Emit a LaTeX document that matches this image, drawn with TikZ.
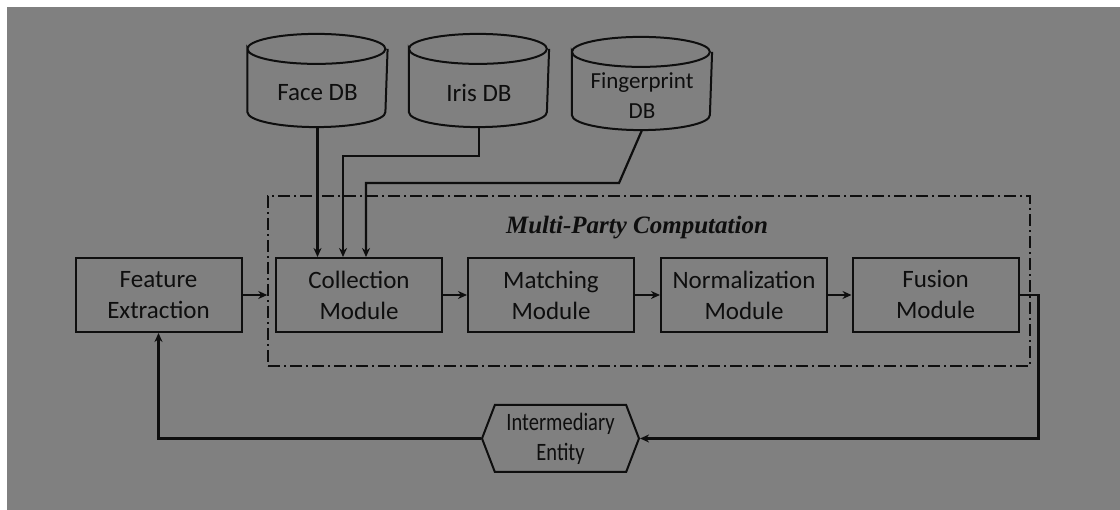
\documentclass[tikz,border=0pt]{standalone}
\usepackage{fontspec}
\setmainfont{Carlito}
\newfontfamily\titlefont{Liberation Serif}
\newfontfamily\schmal[FakeStretch=0.82]{Carlito}
\usepackage{tikz}
\usetikzlibrary{shapes.symbols}
\usetikzlibrary{arrows,arrows.meta}
\usetikzlibrary{calc}
\definecolor{hintergrund}{RGB}{128,128,128}
\definecolor{linie}{RGB}{14,14,14}

\tikzset{
	modul/.style={draw, line width=2pt, minimum width=166pt, minimum height=74pt, align=center, inner sep=0pt},
	datenbank/.style={minimum width=138pt, minimum height=66pt, align=center, inner sep=0pt},
	instanz/.style={draw, line width=2pt, signal, signal to=east and west, signal pointer angle=138, minimum width=157pt, minimum height=67pt, align=center, inner sep=0pt, font=\schmal\fontsize{25}{30}\selectfont},
	rahmen/.style={draw, line width=1.5pt, dash pattern=on 12pt off 4pt on 2pt off 4pt, minimum width=762pt, minimum height=170pt, inner sep=0pt},
}

\begin{document}
\begin{tikzpicture}[x=1pt, y=1pt, linie, text=linie, >={Stealth[length=9pt,width=8pt]}, line width=2.2pt, font=\fontsize{25}{31}\selectfont]

	\useasboundingbox (0,0) rectangle (1120,510);
	\fill[white] (0,0) rectangle (1120,510);
	\fill[hintergrund] (7,0) rectangle (1120,503);

	% Datenbanken
	\node[datenbank] (face) at (317.5,417) {Face DB};
	\node[datenbank] (iris) at (479,417) {Iris DB};
	\node[datenbank, font=\fontsize{23}{30}\selectfont] (finger) at (642,414) {Fingerprint\\DB};
	\foreach \db in {face,iris,finger}
		\draw[line width=2pt] ([yshift=10pt]\db.north west) arc[start angle=180, end angle=-180, x radius=69pt, y radius=15pt]
			-- ([yshift=15pt]\db.south west) arc[start angle=180, end angle=360, x radius=69pt, y radius=15pt]
			-- ([yshift=10pt]\db.north east);

	% MPC-Rahmen
	\node[rahmen] (mpc) at (649,229) {};
	\node[font=\titlefont\fontsize{25}{28}\selectfont\bfseries\itshape] (titel) at (637,282) {Multi-Party Computation};

	% Module
	\node[modul] (feat) at (158.5,215) {Feature\\Extraction};
	\node[modul] (coll) at (359,215) {Collection\\Module};
	\node[modul] (match) at (551,215) {Matching\\Module};
	\node[modul] (norm) at (744,215) {Normalization\\Module};
	\node[modul] (fus) at (935.5,215) {Fusion\\Module};
	\node[instanz] (inter) at (560.5,71.5) {Intermediary\\Entity};

	% Verbindungen
	\draw[->] (face.south) -- (face.south |- coll.north);
	\draw[->] (iris.south) -- ++(0,-29) -| ([xshift=-16pt]coll.north);
	\draw[->] (finger.south) -- ++(-23,-53) -| ([xshift=7pt]coll.north);
	\draw[->] (feat.east) -- (feat.east -| mpc.west);
	\draw[->] (coll) -- (match);
	\draw[->] (match) -- (norm);
	\draw[->] (norm) -- (fus);
	\draw[->] (fus.east) -- ++(19,0) |- (inter.east);
	\draw[->] (inter.west) -| (feat.south);

\end{tikzpicture}
\end{document}
